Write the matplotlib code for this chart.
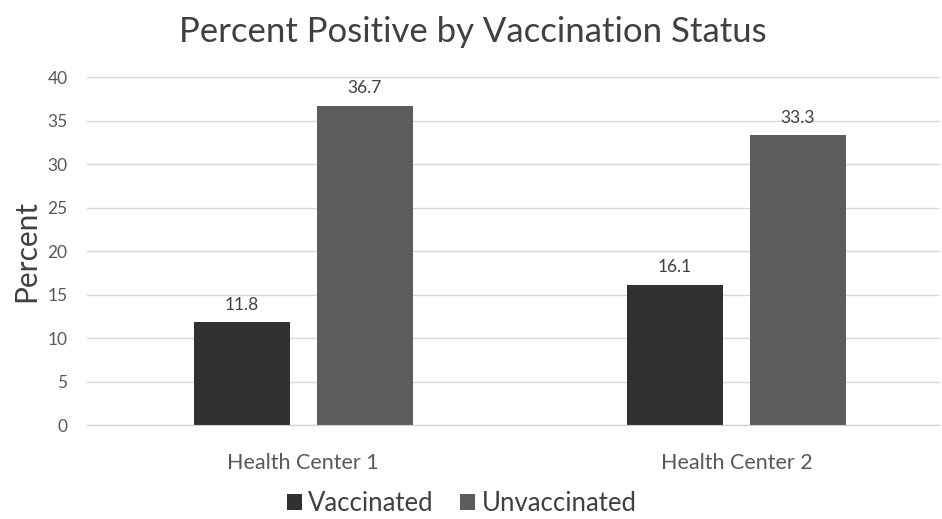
import matplotlib
matplotlib.use("Agg")
import matplotlib.pyplot as plt
import numpy as np

categories = ["Health Center 1", "Health Center 2"]
series_names = ["Vaccinated", "Unvaccinated"]
vaccinated = [11.8, 16.1]
unvaccinated = [36.7, 33.3]
yticks = [0, 5, 10, 15, 20, 25, 30, 35, 40]

plt.rcParams['font.family'] = ['Lato', 'DejaVu Sans']
text_color = "#595959"
colors = ["#303030", "#5d5d5d"]

fig = plt.figure(figsize=(9.42, 5.19), dpi=100)
ax = fig.add_axes([0.0924, 0.181, 0.906, 0.6706])

x = np.arange(len(categories))
w = 0.222
off = 0.142
b1 = ax.bar(x - off, vaccinated, w, color=colors[0], label=series_names[0], zorder=3)
b2 = ax.bar(x + off, unvaccinated, w, color=colors[1], label=series_names[1], zorder=3)

for bars, vals in ((b1, vaccinated), (b2, unvaccinated)):
    for rect, v in zip(bars, vals):
        ax.annotate(f"{v:.1f}", (rect.get_x() + rect.get_width() / 2, v),
                    xytext=(0, 7), textcoords="offset points",
                    ha="center", va="bottom", fontsize=12.5, color="#404040")

ax.set_ylim(0, 40)
ax.set_yticks(yticks)
ax.set_xlim(-0.499, 1.471)
ax.set_xticks(x)
ax.set_xticklabels(categories)
ax.tick_params(axis="both", length=0, colors=text_color, labelsize=12.5)
ax.tick_params(axis="x", pad=20, labelsize=15.5)
ax.tick_params(axis="y", pad=14)
ax.yaxis.grid(True, color="#d9d9d9", linewidth=1.0, zorder=0)
ax.set_axisbelow(True)
for s in ["top", "right", "left"]:
    ax.spines[s].set_visible(False)
ax.spines["bottom"].set_color("#d0d0d0")
ax.spines["bottom"].set_zorder(4)

ax.set_ylabel("Percent", fontsize=21.5, color="#404040", labelpad=5)
fig.text(0.502, 0.938, "Percent Positive by Vaccination Status", ha="center", va="center",
         fontsize=25, color="#404040")

leg = fig.legend(handles=[b1, b2], labels=series_names, loc="center",
                 bbox_to_anchor=(0.49, 0.03), ncol=2, frameon=False, fontsize=18.5,
                 handlelength=0.6, handleheight=0.6, handletextpad=0.25, columnspacing=1.0,
                 borderpad=0)
for t in leg.get_texts():
    t.set_color("#404040")

fig.savefig("out.png", dpi=100)
